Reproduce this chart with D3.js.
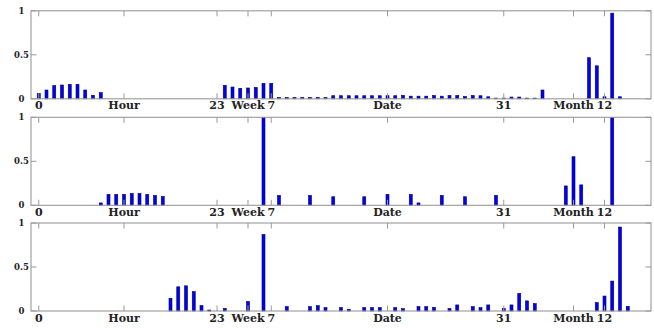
<!DOCTYPE html>
<html>
<head>
<meta charset="utf-8">
<script src="https://cdn.jsdelivr.net/npm/d3@7"></script>
<style>
  body { margin: 0; background: #fff; }
  svg text { font-family: "DejaVu Serif", serif; font-weight: bold; fill: #222; }
</style>
</head>
<body>
<script>
// x positions: 0-23 hour, then week, date, month segments
const tickPos = [0, 11, 23, 27, 30, 45, 60, 69, 73];
const tickLabels = ["0", "Hour", "23", "Week", "7", "Date", "31", "Month", "12"];
const yTicks = [0, 0.5, 1];

// values per position index 0..75
const series1 = [
  0.061, 0.10, 0.15, 0.157, 0.165, 0.165, 0.10, 0.04, 0.07, 0, 0, 0, 0, 0, 0, 0, 0, 0, 0, 0, 0, 0, 0, 0,
  0.153, 0.134, 0.119, 0.123, 0.13, 0.176, 0.176,
  0.015, 0.015, 0.015, 0.015, 0.015, 0.015, 0.015, 0.035, 0.035, 0.035, 0.035, 0.035, 0.035, 0.035, 0.035,
  0.035, 0.04, 0.03, 0.03, 0.03, 0.038, 0.03, 0.038, 0.038, 0.027, 0.038, 0.035, 0.023, 0.008, 0.008,
  0.02, 0.02, 0.008, 0.008, 0.10, 0, 0, 0, 0, 0, 0.467, 0.375, 0.023, 0.973, 0.023
];
const series2 = [
  0, 0, 0, 0, 0, 0, 0, 0, 0.027, 0.124, 0.124, 0.124, 0.135, 0.135, 0.124, 0.112, 0.10, 0, 0, 0, 0, 0, 0, 0,
  0, 0, 0, 0, 0, 1.0, 0,
  0.112, 0, 0, 0, 0.112, 0, 0, 0.097, 0, 0, 0, 0.097, 0, 0, 0.124, 0, 0, 0.124, 0.027, 0, 0, 0.112, 0, 0,
  0.097, 0, 0, 0, 0.112, 0, 0, 0, 0, 0, 0, 0, 0, 0.22, 0.552, 0.232, 0, 0, 0, 1.0, 0
];
const series3 = [
  0, 0, 0, 0, 0, 0, 0, 0, 0, 0, 0, 0, 0, 0, 0, 0, 0, 0.145, 0.275, 0.286, 0.221, 0.061, 0.011, 0,
  0.03, 0, 0, 0.107, 0, 0.87, 0,
  0, 0.05, 0, 0, 0.05, 0.061, 0.038, 0, 0.038, 0.019, 0, 0.038, 0.038, 0.038, 0, 0.038, 0.027, 0, 0.05, 0.05,
  0.042, 0, 0.027, 0.069, 0, 0.05, 0.038, 0.069, 0, 0.027, 0.069, 0.20, 0.115, 0.084, 0, 0, 0, 0, 0, 0, 0,
  0.095, 0.17, 0.34, 0.954, 0.053
];
const allSeries = [series1, series2, series3];

const width = 654, height = 328;
const panelTops = [10.8, 117.3, 223];
const panelH = 88;
const left = 31, right = 651;

const svg = d3.select("body").append("svg")
  .attr("width", width).attr("height", height);

const x = d3.scaleLinear().domain([-1, 79]).range([left, right]);

allSeries.forEach((vals, p) => {
  const top = panelTops[p];
  const y = d3.scaleLinear().domain([0, 1]).range([top + panelH, top]);
  const g = svg.append("g");

  // bars
  g.selectAll("rect.bar")
    .data(vals.map((v, i) => ({ i, v })).filter(d => d.v > 0))
    .enter().append("rect")
    .attr("class", "bar")
    .attr("x", d => x(d.i) - 1.5)
    .attr("width", 3)
    .attr("y", d => y(d.v))
    .attr("height", d => y(0) - y(d.v))
    .attr("fill", "#0000f2")
    .attr("stroke", "#00006e")
    .attr("stroke-width", 0.6);

  // frame
  g.append("rect")
    .attr("x", left).attr("y", top)
    .attr("width", right - left).attr("height", panelH)
    .attr("fill", "none").attr("stroke", "#999").attr("stroke-width", 1.1);

  // x ticks (inside, top and bottom)
  tickPos.forEach(t => {
    g.append("line").attr("x1", x(t)).attr("x2", x(t))
      .attr("y1", top).attr("y2", top + 5.5)
      .attr("stroke", "#999").attr("stroke-width", 1);
    g.append("line").attr("x1", x(t)).attr("x2", x(t))
      .attr("y1", top + panelH).attr("y2", top + panelH - 5.5)
      .attr("stroke", "#999").attr("stroke-width", 1);
  });

  // y ticks (inside, left and right)
  yTicks.forEach(t => {
    g.append("line").attr("x1", left).attr("x2", left + 5.5)
      .attr("y1", y(t)).attr("y2", y(t))
      .attr("stroke", "#999").attr("stroke-width", 1);
    g.append("line").attr("x1", right).attr("x2", right - 5.5)
      .attr("y1", y(t)).attr("y2", y(t))
      .attr("stroke", "#999").attr("stroke-width", 1);
  });

  // y labels
  g.selectAll("text.yl")
    .data(yTicks)
    .enter().append("text")
    .attr("class", "yl")
    .attr("x", 21.5)
    .attr("y", d => y(d))
    .attr("dy", "0.35em")
    .attr("text-anchor", "middle")
    .attr("font-size", 8.5)
    .text(d => d === 0.5 ? "0.5" : String(d));

  // x labels
  g.selectAll("text.xl")
    .data(tickPos)
    .enter().append("text")
    .attr("class", "xl")
    .attr("x", d => x(d))
    .attr("y", top + panelH + 10.5)
    .attr("text-anchor", "middle")
    .attr("font-size", 11)
    .text((d, i) => tickLabels[i]);
});
</script>
</body>
</html>
